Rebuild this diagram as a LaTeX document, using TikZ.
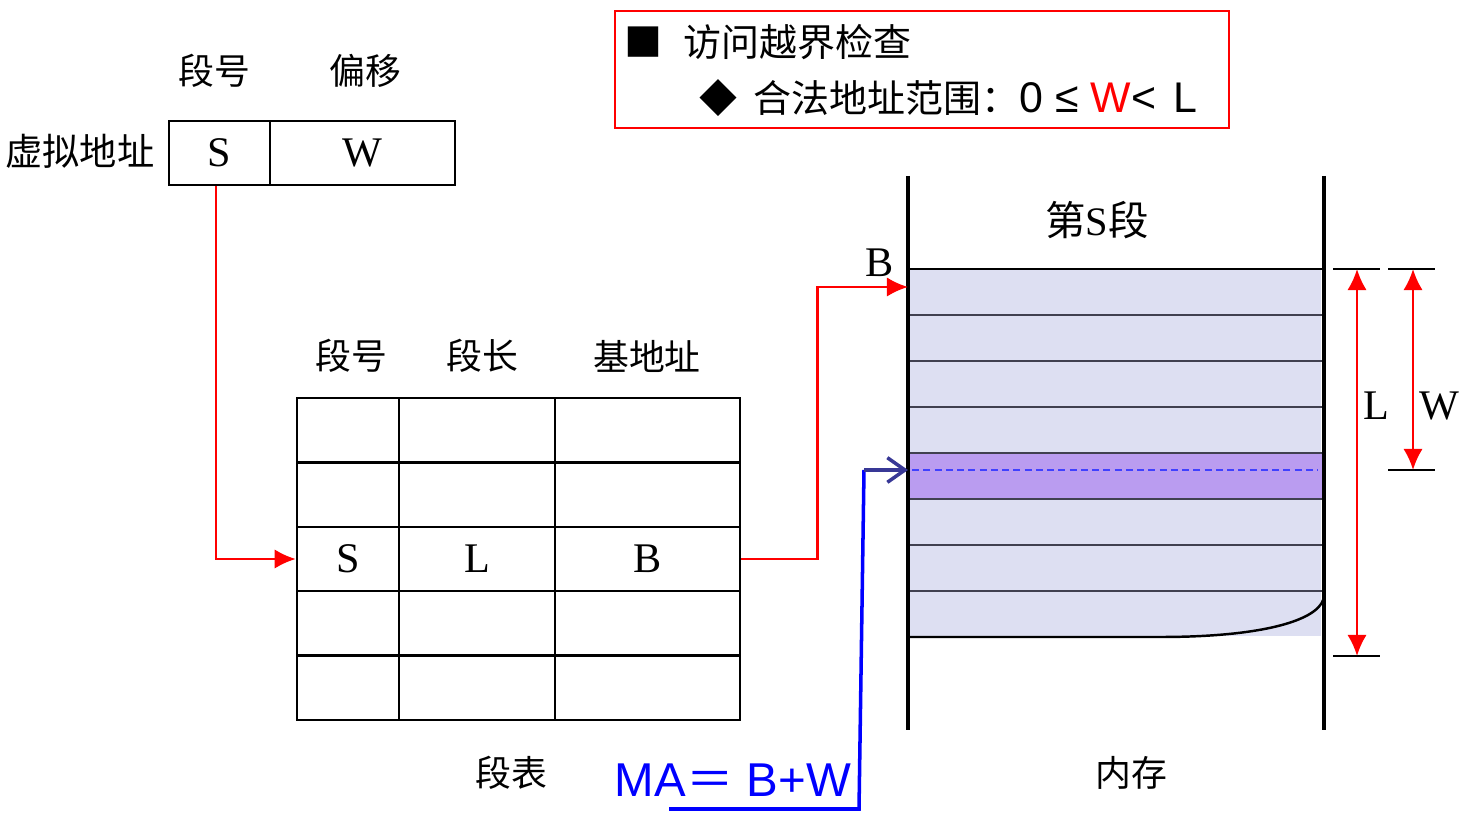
\documentclass[tikz,border=0pt]{standalone}
\usepackage{fontspec}
\setmainfont{Liberation Serif}
\setsansfont{Liberation Sans}
\newfontfamily\cjk{Noto Sans CJK SC}
\usetikzlibrary{arrows.meta}
\definecolor{memfill}{RGB}{221,223,242}
\definecolor{hitfill}{RGB}{186,156,240}
\definecolor{navyarrow}{RGB}{56,56,150}
\definecolor{rowline}{RGB}{64,64,80}
\tikzset{
	lbl/.style={inner sep=0pt, font=\cjk\fontsize{10.2}{12}\selectfont},
	latin/.style={inner sep=0pt, font=\fontsize{12}{14}\selectfont},
	cell/.style={draw, line width=0.7pt, inner sep=0pt, minimum height=0.644cm},
	redline/.style={red, line width=0.7pt},
	tick/.style={line width=0.8pt},
}
\begin{document}
\begin{tikzpicture}[x=0.01cm, y=-0.01cm, >={Latex[length=6pt,width=5.5pt]}]
	\useasboundingbox (0,0) rectangle (1461,819);

	% virtual address
	\node (va-lbl)		at (80,151) [lbl, font=\cjk\fontsize{10.6}{12}\selectfont] {虚拟地址};
	\node (va-s)		at (219.5,153) [cell, minimum width=1.01cm, minimum height=0.64cm, latin] {S};
	\node (va-w)		at (362.5,153) [cell, minimum width=1.85cm, minimum height=0.64cm, latin] {W};
	\node (va-seg)		at (214,71) [lbl] {段号};
	\node (va-off)		at (365,71) [lbl] {偏移};

	% segment table
	\foreach \r in {1,...,5}
		\foreach \c/\x/\w in {1/348/1.02, 2/477/1.56, 3/647.5/1.85}
			\node (cell-\r-\c) at (\x,{398+64.4*(\r-0.5)}) [cell, minimum width=\w cm] {};
	\node (tab-s)		at (cell-3-1) [latin] {S};
	\node (tab-l)		at (cell-3-2) [latin] {L};
	\node (tab-b)		at (cell-3-3) [latin] {B};
	\node (tab-h1)		at (351,356) [lbl] {段号};
	\node (tab-h2)		at (482,356) [lbl] {段长};
	\node (tab-h3)		at (647,356) [lbl] {基地址};
	\node (tab-name)	at (511,773) [lbl] {段表};

	% memory
	\fill[memfill] (908,269) rectangle (1321,636);
	\fill[hitfill] (908,453) rectangle (1324,499);
	\foreach \y in {315,361,407,453,499,545,591}
		\draw[rowline, line width=0.7pt] (908,\y) -- (1324,\y);
	\draw[line width=0.8pt] (908,269) -- (1324,269);
	\draw[blue!75, dashed, dash pattern=on 2pt off 1.2pt, line width=0.4pt] (912,470) -- (1318,470);
	\draw[line width=0.7pt] (908,637) -- (1160,637) .. controls (1270,637) and (1324,618) .. (1324,595);
	\draw[line width=0.9pt] (908,176) -- (908,730) (1324,176) -- (1324,730);
	\coordinate (mem-b) at (908,287);
	\coordinate (mem-w) at (908,470);
	\node (mem-seg)		at (1097,220) [lbl, font=\fontsize{11.5}{14}\selectfont] {{\cjk 第}S{\cjk 段}};
	\node (mem-blbl)	at (880,263) [latin] {B};
	\node (mem-name)	at (1131,773) [lbl] {内存};

	% length and offset
	\coordinate (l-top)	at (1357,269);
	\coordinate (l-bot)	at (1357,656);
	\coordinate (w-top)	at (1413,269);
	\coordinate (w-bot)	at (1413,470);
	\draw[tick] (1333,269) -- (1380,269) (1333,656) -- (1380,656);
	\draw[tick] (1388,269) -- (1435,269) (1388,470) -- (1435,470);
	\draw[redline, <->] (l-top) -- (l-bot);
	\draw[redline, <->] (w-top) -- (w-bot);
	\node (l-lbl)		at (1376,406) [latin] {L};
	\node (w-lbl)		at (1439,406) [latin] {W};

	% lookups
	\draw[redline, ->] (va-s.south -| 216,0) |- (cell-3-1.west);
	\draw[redline, ->] (cell-3-3.east) -- ++(76,0) |- (mem-b);

	% physical address
	\node (ma)			at (733,780) [inner sep=0pt, text=blue, font=\sffamily\fontsize{13.5}{16}\selectfont] {MA{\cjk ＝} B+W};
	\coordinate (ma-ul)	at (669,809);
	\coordinate (ma-ur)	at (859,809);
	\coordinate (ma-up)	at (864,470);
	\draw[blue, line width=1pt] (ma-ul) -- (ma-ur) -- (ma-up);
	\draw[navyarrow, line width=1pt, -{Straight Barb[length=5pt,width=7pt]}] (ma-up) -- (mem-w);

	% bounds check
	\draw[red, line width=0.5pt] (615,11) rectangle (1229,128);
	\node (bul1)		at (643,42) [lbl, font=\cjk\fontsize{10.8}{12}\selectfont] {■};
	\node (chk)			at (683,42) [lbl, anchor=west, font=\cjk\fontsize{10.8}{12}\selectfont] {访问越界检查};
	\node (bul2)		at (718,98) [lbl, font=\cjk\fontsize{10.8}{12}\selectfont] {◆};
	\node (rng)			at (753,98) [lbl, anchor=west, font=\cjk\fontsize{10.8}{12}\selectfont] {合法地址范围：{\sffamily\fontsize{12.2}{14}\selectfont 0 ≤ \textcolor{red}{W}<\hspace{0.4em}L}};
\end{tikzpicture}
\end{document}
